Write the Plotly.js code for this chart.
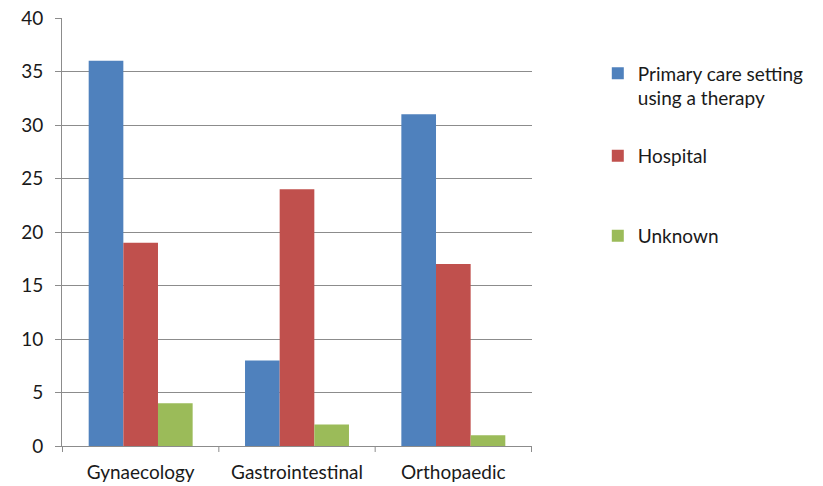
<!DOCTYPE html>
<html>
<head>
<meta charset="utf-8">
<script src="https://cdn.plot.ly/plotly-3.0.1.min.js"></script>
<style>html,body{margin:0;padding:0;background:#fff}#chart{width:823px;height:486px}</style>
</head>
<body>
<div id="chart"></div>
<script>
const categories = ["Gynaecology", "Gastrointestinal", "Orthopaedic"];
const seriesNames = ["Primary care setting<br>using a therapy", "Hospital", "Unknown"];
const primaryCare = [36, 8, 31];
const hospital = [19, 24, 17];
const unknown = [4, 2, 1];
const yTicks = [0, 5, 10, 15, 20, 25, 30, 35, 40];

const colors = ["#4F81BD", "#C0504D", "#9BBB59"];
const values = [primaryCare, hospital, unknown];
const legends = ["legend", "legend2", "legend3"];

const data = values.map((v, i) => ({
  type: "bar",
  x: categories,
  y: v,
  name: seriesNames[i],
  marker: {color: colors[i], line: {width: 0}},
  legend: legends[i],
  hoverinfo: "x+y+name"
}));

const fam = "Lato, 'Open Sans', sans-serif";
const font = {family: fam, size: 19, color: "#1a1a1a"};
const legBase = {x: 1.14, xanchor: "left", bgcolor: "rgba(0,0,0,0)", font: {family: fam, size: 19, color: "#1a1a1a"}, itemwidth: 30, valign: "top"};

const layout = {
  width: 823, height: 486,
  margin: {l: 62, r: 291, t: 18, b: 40, pad: 0},
  paper_bgcolor: "#fff", plot_bgcolor: "#fff",
  font: font,
  barmode: "group",
  bargap: 0.335,
  bargroupgap: 0,
  xaxis: {
    showline: true, linecolor: "#8c8c8c", linewidth: 1,
    ticks: "", showgrid: false,
    ticklabelstandoff: 9,
    tickfont: {family: fam, size: 19, color: "#1a1a1a"},
    fixedrange: true
  },
  yaxis: {
    range: [0, 40], tickvals: yTicks, ticktext: yTicks.map(String),
    showline: true, linecolor: "#8c8c8c", linewidth: 1,
    ticks: "outside", ticklen: 6, tickcolor: "#8c8c8c",
    ticklabelstandoff: 8,
    showgrid: true, gridcolor: "#8c8c8c", gridwidth: 1,
    zeroline: false,
    tickfont: {family: fam, size: 19, color: "#1a1a1a"},
    fixedrange: true
  },
  showlegend: true,
  legend: Object.assign({}, legBase, {y: 0.915, yanchor: "top"}),
  legend2: Object.assign({}, legBase, {y: 0.6776, yanchor: "middle"}),
  legend3: Object.assign({}, legBase, {y: 0.4907, yanchor: "middle"}),
  shapes: [-0.5, 0.5, 1.5, 2.5].map(xv => ({
    type: "line", xref: "x", yref: "paper",
    x0: xv, x1: xv, y0: 0, y1: -0.014,
    line: {color: "#8c8c8c", width: 1}
  }))
};

Plotly.newPlot("chart", data, layout, {displayModeBar: false, staticPlot: true});
</script>
</body>
</html>
